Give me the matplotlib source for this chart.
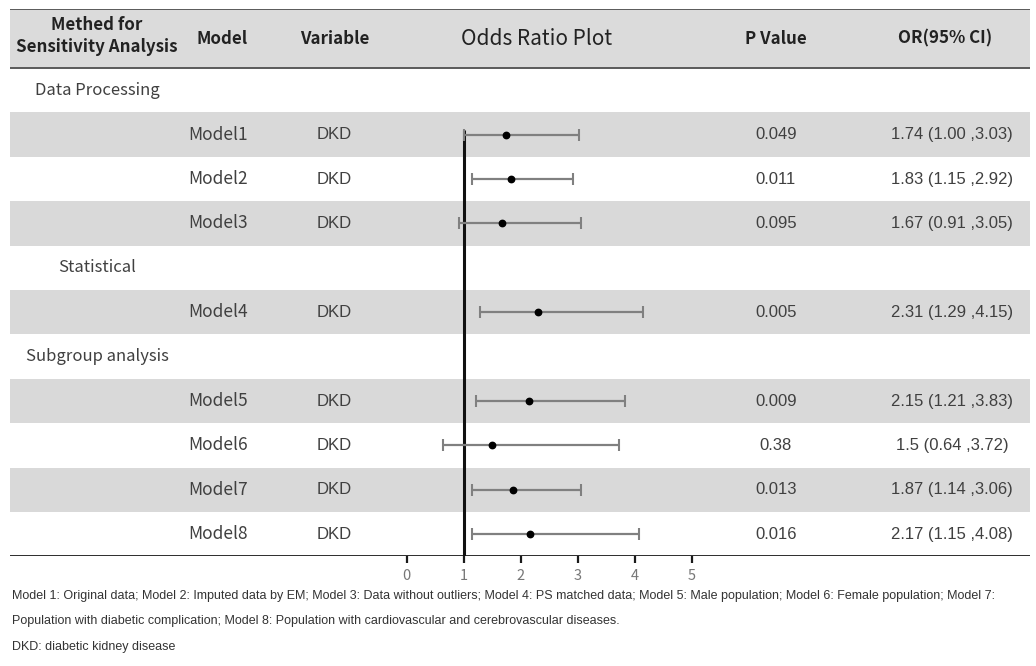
import numpy as np
import matplotlib
matplotlib.use("Agg")
import matplotlib.pyplot as plt
import matplotlib.transforms as mtransforms
from matplotlib import font_manager

# table content, top to bottom
groups = ["Data Processing", None, None, None, "Statistical", None,
          "Subgroup analysis", None, None, None, None]
models = [None, "Model1", "Model2", "Model3", None, "Model4",
          None, "Model5", "Model6", "Model7", "Model8"]
variables = [None, "DKD", "DKD", "DKD", None, "DKD",
             None, "DKD", "DKD", "DKD", "DKD"]
or_est = [None, 1.74, 1.83, 1.67, None, 2.31, None, 2.15, 1.5, 1.87, 2.17]
ci_low = [None, 1.00, 1.15, 0.91, None, 1.29, None, 1.21, 0.64, 1.14, 1.15]
ci_high = [None, 3.03, 2.92, 3.05, None, 4.15, None, 3.83, 3.72, 3.06, 4.08]
p_values = [None, "0.049", "0.011", "0.095", None, "0.005",
            None, "0.009", "0.38", "0.013", "0.016"]
or_text = [None, "1.74 (1.00 ,3.03)", "1.83 (1.15 ,2.92)", "1.67 (0.91 ,3.05)",
           None, "2.31 (1.29 ,4.15)", None, "2.15 (1.21 ,3.83)",
           "1.5 (0.64 ,3.72)", "1.87 (1.14 ,3.06)", "2.17 (1.15 ,4.08)"]
shaded = [False, True, False, True, False, True, False, True, False, True, False]
x_ticks = [0, 1, 2, 3, 4, 5]

footnotes = [
    "Model 1: Original data; Model 2: Imputed data by EM; Model 3: Data without outliers; "
    "Model 4: PS matched data; Model 5: Male population; Model 6: Female population; Model 7:",
    "Population with diabetic complication; Model 8: Population with cardiovascular and "
    "cerebrovascular diseases.",
    "DKD: diabetic kidney disease",
]

installed = {f.name for f in font_manager.fontManager.ttflist}
head_font = ["Noto Sans CJK SC", "DejaVu Sans"]
body_font = ["Liberation Sans", "DejaVu Sans"]
note_font = ["Liberation Sans Narrow", "Liberation Sans", "DejaVu Sans"]
if "Liberation Sans Narrow" not in installed:
    note_font = ["Liberation Sans", "DejaVu Sans"]

W, H = 1036, 666
fig = plt.figure(figsize=(W / 100, H / 100), dpi=100)

# vertical layout in pixels
top_px, head_px, row_px = 9, 68, 44.4
n_rows = len(models)
bottom_px = head_px + n_rows * row_px
y_top = 0.5 - (head_px - top_px) / row_px
y_bot = n_rows + 0.5

ax_b = fig.add_axes([10 / W, 1 - bottom_px / H, 1020 / W, (bottom_px - top_px) / H])
ax_b.set_xlim(0, 1)
ax_b.set_ylim(y_bot, y_top)
ax_b.axis("off")

band = "#d9d9d9"
ax_b.axhspan(y_top, 0.5, color="#dbdbdb", lw=0)
for i, s in enumerate(shaded):
    if s:
        ax_b.axhspan(i + 1 - 0.5, i + 1 + 0.5, color=band, lw=0)
ax_b.axhline(y_top, color="#5a5a5a", lw=1.4)
ax_b.axhline(0.5, color="#5a5a5a", lw=1.4)
ax_b.axhline(y_bot, color="#1a1a1a", lw=2.0)

# column x positions in pixels
to_fig = lambda px: px / W
tr = mtransforms.blended_transform_factory(fig.transFigure, ax_b.transData)
hc = "#222222"
tc = "#404040"
hs = 12.2

ax_b.text(to_fig(97), 0.5 - 0.96, "Methed for", transform=tr, ha="center", va="center",
          fontsize=hs, fontweight="bold", family=head_font, color=hc)
ax_b.text(to_fig(97), 0.5 - 0.47, "Sensitivity Analysis", transform=tr, ha="center", va="center",
          fontsize=hs, fontweight="bold", family=head_font, color=hc)
hy = 0.5 - (head_px - top_px) / row_px / 2
ax_b.text(to_fig(222), hy, "Model", transform=tr, ha="center", va="center",
          fontsize=hs, fontweight="bold", family=head_font, color=hc)
ax_b.text(to_fig(335), hy, "Variable", transform=tr, ha="center", va="center",
          fontsize=hs, fontweight="bold", family=head_font, color=hc)
ax_b.text(to_fig(537), hy, "Odds Ratio Plot", transform=tr, ha="center", va="center",
          fontsize=15, family=head_font, color=hc)
ax_b.text(to_fig(776), hy, "P Value", transform=tr, ha="center", va="center",
          fontsize=hs, fontweight="bold", family=head_font, color=hc)
ax_b.text(to_fig(945), hy, "OR(95% CI)", transform=tr, ha="center", va="center",
          fontsize=hs, fontweight="bold", family=head_font, color=hc)

for i in range(n_rows):
    y = i + 1
    if groups[i]:
        ax_b.text(to_fig(97), y, groups[i], transform=tr, ha="center", va="center",
                  fontsize=12, family=head_font, color=tc)
    if models[i]:
        ax_b.text(to_fig(188), y, models[i], transform=tr, ha="left", va="center",
                  fontsize=12.5, family=head_font, color=tc)
        ax_b.text(to_fig(317), y, variables[i], transform=tr, ha="left", va="center",
                  fontsize=12, family=body_font, color=tc)
        ax_b.text(to_fig(776), y, p_values[i], transform=tr, ha="center", va="center",
                  fontsize=12, family=body_font, color=tc)
        ax_b.text(to_fig(952), y, or_text[i], transform=tr, ha="center", va="center",
                  fontsize=12, family=body_font, color=tc)

# forest plot axes, 0 at 406.7 px, 57 px per unit
x0_px, unit_px = 406.7, 57.0
xlo, xhi = -0.3, 5.6
ax = fig.add_axes([(x0_px + xlo * unit_px) / W, 1 - bottom_px / H,
                   (xhi - xlo) * unit_px / W, (bottom_px - top_px) / H])
ax.set_xlim(xlo, xhi)
ax.set_ylim(y_bot, y_top)
ax.patch.set_visible(False)
for sp in ax.spines.values():
    sp.set_visible(False)
ax.set_yticks([])
ax.set_xticks(x_ticks)
ax.tick_params(axis="x", direction="out", length=5, width=1.6, color="#1a1a1a",
               labelsize=10.5, labelcolor="#777777", pad=4)
for lab in ax.get_xticklabels():
    lab.set_family(head_font)

ax.vlines(1, 1.9, y_bot, color="#111111", lw=2.2)
for i in range(n_rows):
    if or_est[i] is None:
        continue
    y = i + 1
    est = or_est[i]
    ax.errorbar(est, y, xerr=[[est - ci_low[i]], [ci_high[i] - est]], fmt="none",
                ecolor="#808080", elinewidth=1.6, capsize=4, capthick=1.5)
    ax.plot(est, y, "o", color="black", ms=4.6)

for k, line in enumerate(footnotes):
    fig.text(12 / W, 1 - (596 + k * 25.3) / H, line, ha="left", va="center",
             fontsize=9.0, family=note_font, color="#333333")

fig.savefig("out.png", dpi=100)
